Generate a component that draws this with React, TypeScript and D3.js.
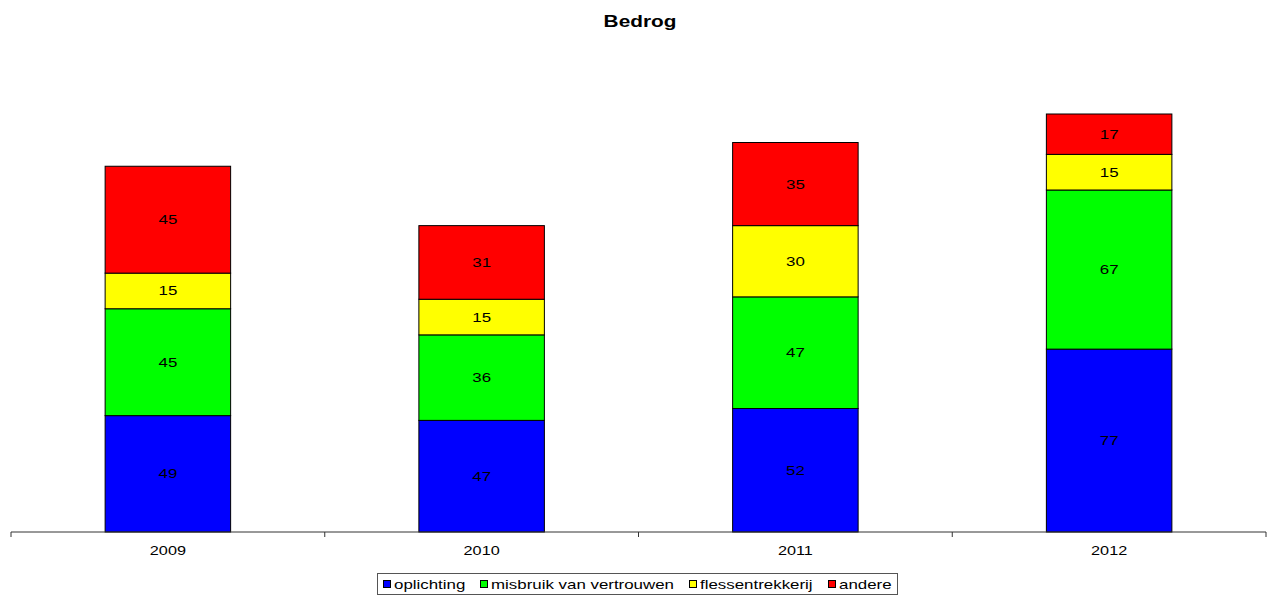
import { useMemo } from "react";
import { scaleBand, scaleLinear, stack } from "d3";

const YEARS = ["2009", "2010", "2011", "2012"];
const SERIES = ["oplichting", "misbruik van vertrouwen", "flessentrekkerij", "andere"];
const OPLICHTING = [49, 47, 52, 77];
const MISBRUIK = [45, 36, 47, 67];
const FLESSEN = [15, 15, 30, 15];
const ANDERE = [45, 31, 35, 17];
const COLORS = ["#0000ff", "#00ff00", "#ffff00", "#ff0000"];

const WIDTH = 1271;
const HEIGHT = 596;
const PLOT = { left: 11, right: 1266, top: 57, bottom: 532 };
const SX = 1.3; // source image is horizontally stretched
const FONT = "'Liberation Sans', Arial, sans-serif";

// legend swatch positions
const LEGEND_X = [383, 480, 689, 828];

export default function App() {
  const rows = useMemo(
    () =>
      YEARS.map((year, i) => ({
        year,
        s0: OPLICHTING[i],
        s1: MISBRUIK[i],
        s2: FLESSEN[i],
        s3: ANDERE[i],
      })),
    []
  );

  const x = scaleBand().domain(YEARS).range([PLOT.left, PLOT.right]).padding(0);
  const y = scaleLinear().domain([0, 200]).range([PLOT.bottom, PLOT.top]);
  const barW = x.bandwidth() * 0.4;

  const layers = stack<any>().keys(["s0", "s1", "s2", "s3"])(rows);

  const ticks = [...YEARS.map((d) => x(d)!), PLOT.right];

  const stretched = (tx: number, ty: number) => `translate(${tx},${ty}) scale(${SX},1)`;

  return (
    <svg
      width={WIDTH}
      height={HEIGHT}
      style={{ position: "absolute", left: 0, top: 0, background: "#fff" }}
      fontFamily={FONT}
    >
      <text transform={stretched(640, 27)} textAnchor="middle" fontSize={16} fontWeight="bold">
        Bedrog
      </text>

      {layers.map((layer, li) => (
        <g key={layer.key}>
          {layer.map((d, i) => {
            const cx = x(YEARS[i])! + x.bandwidth() / 2;
            const y0 = y(d[0]);
            const y1 = y(d[1]);
            return (
              <g key={YEARS[i]}>
                <rect
                  x={cx - barW / 2}
                  y={y1}
                  width={barW}
                  height={y0 - y1}
                  fill={COLORS[li]}
                  stroke="#000"
                  strokeWidth={1}
                />
                <text
                  transform={stretched(cx, (y0 + y1) / 2 + 4.5)}
                  textAnchor="middle"
                  fontSize={13}
                  fill="#000"
                >
                  {d[1] - d[0]}
                </text>
              </g>
            );
          })}
        </g>
      ))}

      {/* category axis */}
      <line x1={PLOT.left} x2={PLOT.right} y1={PLOT.bottom} y2={PLOT.bottom} stroke="#333" strokeWidth={1} />
      {ticks.map((t, i) => (
        <line key={i} x1={t} x2={t} y1={PLOT.bottom} y2={PLOT.bottom + 5} stroke="#333" strokeWidth={1} />
      ))}
      {YEARS.map((d) => (
        <text
          key={d}
          transform={stretched(x(d)! + x.bandwidth() / 2, 555)}
          textAnchor="middle"
          fontSize={12.5}
          fill="#000"
        >
          {d}
        </text>
      ))}

      {/* legend */}
      <rect x={377.5} y={573.5} width={520} height={21} fill="#fff" stroke="#555" strokeWidth={1} />
      {SERIES.map((s, i) => (
        <g key={s}>
          <rect x={LEGEND_X[i] + 0.5} y={580.5} width={7} height={7} fill={COLORS[i]} stroke="#000" strokeWidth={1} />
          <text transform={stretched(LEGEND_X[i] + 11, 589)} fontSize={13} fill="#000">
            {s}
          </text>
        </g>
      ))}
    </svg>
  );
}
